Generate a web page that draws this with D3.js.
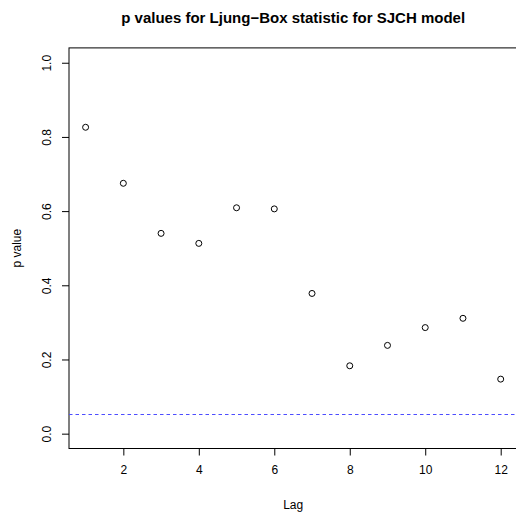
<!DOCTYPE html>
<html>
<head>
<meta charset="utf-8">
<script src="https://cdn.jsdelivr.net/npm/d3@7"></script>
<style>
  html, body { margin: 0; padding: 0; background: #fff; }
  svg { display: block; }
  text { font-family: "Liberation Sans", Arial, Helvetica, sans-serif; fill: #000; }
</style>
</head>
<body>
<svg id="chart" width="516" height="514"></svg>
<script>
// Ljung-Box p values by lag
const lags = [1, 2, 3, 4, 5, 6, 7, 8, 9, 10, 11, 12];
const pValues = [0.826, 0.675, 0.540, 0.513, 0.609, 0.606, 0.378, 0.183, 0.238, 0.286, 0.311, 0.147];
const xTicks = [2, 4, 6, 8, 10, 12];
const yTicks = [0.0, 0.2, 0.4, 0.6, 0.8, 1.0];
const threshold = [0.05];

const svg = d3.select("#chart");
const plot = { left: 69, right: 517.3, top: 47.9, bottom: 448.5 };

// 4% padding on each axis range, as base graphics does
const xDom = [1 - 0.44, 12 + 0.44];
const yDom = [-0.04, 1.04];
const x = d3.scaleLinear().domain(xDom).range([plot.left, plot.right]);
const y = d3.scaleLinear().domain(yDom).range([plot.bottom, plot.top]);

// title
svg.append("text")
  .attr("x", (plot.left + plot.right) / 2)
  .attr("y", 23)
  .attr("text-anchor", "middle")
  .style("font-size", "15px")
  .style("font-weight", "bold")
  .text("p values for Ljung\u2212Box statistic for SJCH model");

// x axis
const xAxis = d3.axisBottom(x).tickValues(xTicks).tickSize(7).tickPadding(10)
  .tickFormat(d3.format("d"));
const gx = svg.append("g").attr("transform", `translate(0,${plot.bottom})`).call(xAxis);
gx.select(".domain").remove();
gx.append("line").attr("x1", x(xTicks[0])).attr("x2", x(xTicks[xTicks.length - 1]))
  .attr("y1", 0).attr("y2", 0).attr("stroke", "#000");
gx.selectAll("text").style("font-size", "12px").attr("fill", "#000");

// y axis with labels rotated parallel to the axis
const yAxis = d3.axisLeft(y).tickValues(yTicks).tickSize(7).tickFormat(d3.format(".1f"));
const gy = svg.append("g").attr("transform", `translate(${plot.left},0)`).call(yAxis);
gy.select(".domain").remove();
gy.selectAll(".tick text")
  .attr("x", null).attr("dy", null)
  .attr("transform", "translate(-22,0) rotate(-90)")
  .attr("text-anchor", "middle")
  .attr("dominant-baseline", "central")
  .style("font-size", "12px");

// plot box
svg.append("rect")
  .attr("x", plot.left).attr("y", plot.top)
  .attr("width", plot.right - plot.left).attr("height", plot.bottom - plot.top)
  .attr("fill", "none").attr("stroke", "#000").attr("stroke-width", 1);

// axis titles
svg.append("text")
  .attr("x", (plot.left + plot.right) / 2).attr("y", 508.5)
  .attr("text-anchor", "middle").style("font-size", "12px").text("Lag");
svg.append("text")
  .attr("transform", `translate(21,${(plot.top + plot.bottom) / 2}) rotate(-90)`)
  .attr("text-anchor", "middle").style("font-size", "12px").text("p value");

// significance reference line
svg.selectAll(".ref").data(threshold).enter().append("line")
  .attr("class", "ref")
  .attr("x1", plot.left).attr("x2", plot.right)
  .attr("y1", d => Math.round(y(d)) - 0.5).attr("y2", d => Math.round(y(d)) - 0.5)
  .attr("stroke", "#4d4dff").attr("stroke-width", 1)
  .attr("stroke-dasharray", "3.5,3");

// points
svg.selectAll(".pt").data(lags).enter().append("circle")
  .attr("class", "pt")
  .attr("cx", d => x(d))
  .attr("cy", (d, i) => y(pValues[i]))
  .attr("r", 3)
  .attr("fill", "none").attr("stroke", "#000").attr("stroke-width", 1);
</script>
</body>
</html>
